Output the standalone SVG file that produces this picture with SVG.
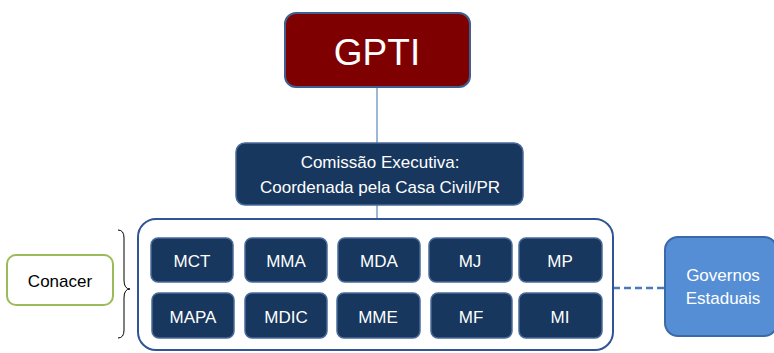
<svg xmlns="http://www.w3.org/2000/svg" width="774" height="353" viewBox="0 0 774 353">
<style>
text{font-family:"Liberation Sans",Arial,sans-serif;text-anchor:middle}
.w{fill:#ffffff}
.min{fill:#17375e;stroke:#4a6b99;stroke-width:1.5}
.mt{font-size:17px;fill:#ffffff}
.conn{stroke:#5b86c0;stroke-width:1.2;fill:none}
</style>
<rect width="774" height="353" fill="#ffffff"/>
<g id="connectors">
<line class="conn" x1="377" y1="87" x2="377" y2="143"/>
<line class="conn" x1="377" y1="205" x2="377" y2="219"/>
<line x1="613" y1="288" x2="665" y2="288" stroke="#4a7ab8" stroke-width="2.5" stroke-dasharray="7,4"/>
</g>
<g id="gpti">
<rect x="285" y="13" width="185" height="74" rx="11" fill="#7f0000" stroke="#3f5f8f" stroke-width="2"/>
<text x="377" y="65" class="w" font-size="37">GPTI</text>
</g>
<g id="comissao">
<rect x="236" y="143" width="287" height="62" rx="9" fill="#17375e" stroke="#4a6b99" stroke-width="1.5"/>
<text x="380" y="168" class="w" font-size="17">Comissão Executiva:</text>
<text x="380" y="193" class="w" font-size="17">Coordenada pela Casa Civil/PR</text>
</g>
<g id="container">
<rect x="138" y="219" width="475" height="131" rx="18" fill="#ffffff" stroke="#2f5597" stroke-width="2"/>
</g>
<g id="mct"><rect class="min" x="151" y="238" width="82" height="44" rx="7"/><text class="mt" x="192" y="267">MCT</text></g>
<g id="mma"><rect class="min" x="245" y="238" width="82" height="44" rx="7"/><text class="mt" x="286" y="267">MMA</text></g>
<g id="mda"><rect class="min" x="338" y="238" width="82" height="44" rx="7"/><text class="mt" x="379" y="267">MDA</text></g>
<g id="mj"><rect class="min" x="429" y="238" width="83" height="44" rx="7"/><text class="mt" x="470" y="267">MJ</text></g>
<g id="mp"><rect class="min" x="519" y="238" width="83" height="44" rx="7"/><text class="mt" x="560" y="267">MP</text></g>
<g id="mapa"><rect class="min" x="152" y="293" width="82" height="45" rx="7"/><text class="mt" x="193" y="323">MAPA</text></g>
<g id="mdic"><rect class="min" x="245" y="293" width="82" height="45" rx="7"/><text class="mt" x="286" y="323">MDIC</text></g>
<g id="mme"><rect class="min" x="337" y="293" width="83" height="45" rx="7"/><text class="mt" x="378" y="323">MME</text></g>
<g id="mf"><rect class="min" x="431" y="293" width="81" height="45" rx="7"/><text class="mt" x="471" y="323">MF</text></g>
<g id="mi"><rect class="min" x="519" y="293" width="83" height="45" rx="7"/><text class="mt" x="560" y="323">MI</text></g>
<g id="conacer">
<rect x="7" y="255" width="106" height="50" rx="9" fill="#ffffff" stroke="#9bbb59" stroke-width="2"/>
<text x="60" y="287" font-size="17" fill="#000000">Conacer</text>
</g>
<g id="brace">
<path d="M118,230 Q124,230 124,238 L124,280 Q124,289 130,289 Q124,289 124,298 L124,330 Q124,338 118,338" fill="none" stroke="#000000" stroke-width="1"/>
</g>
<g id="governos">
<rect x="665" y="237" width="112" height="99" rx="13" fill="#558ed5" stroke="#3a6aa8" stroke-width="2"/>
<text x="723" y="281" class="w" font-size="17">Governos</text>
<text x="723" y="304" class="w" font-size="17">Estaduais</text>
</g>
</svg>
